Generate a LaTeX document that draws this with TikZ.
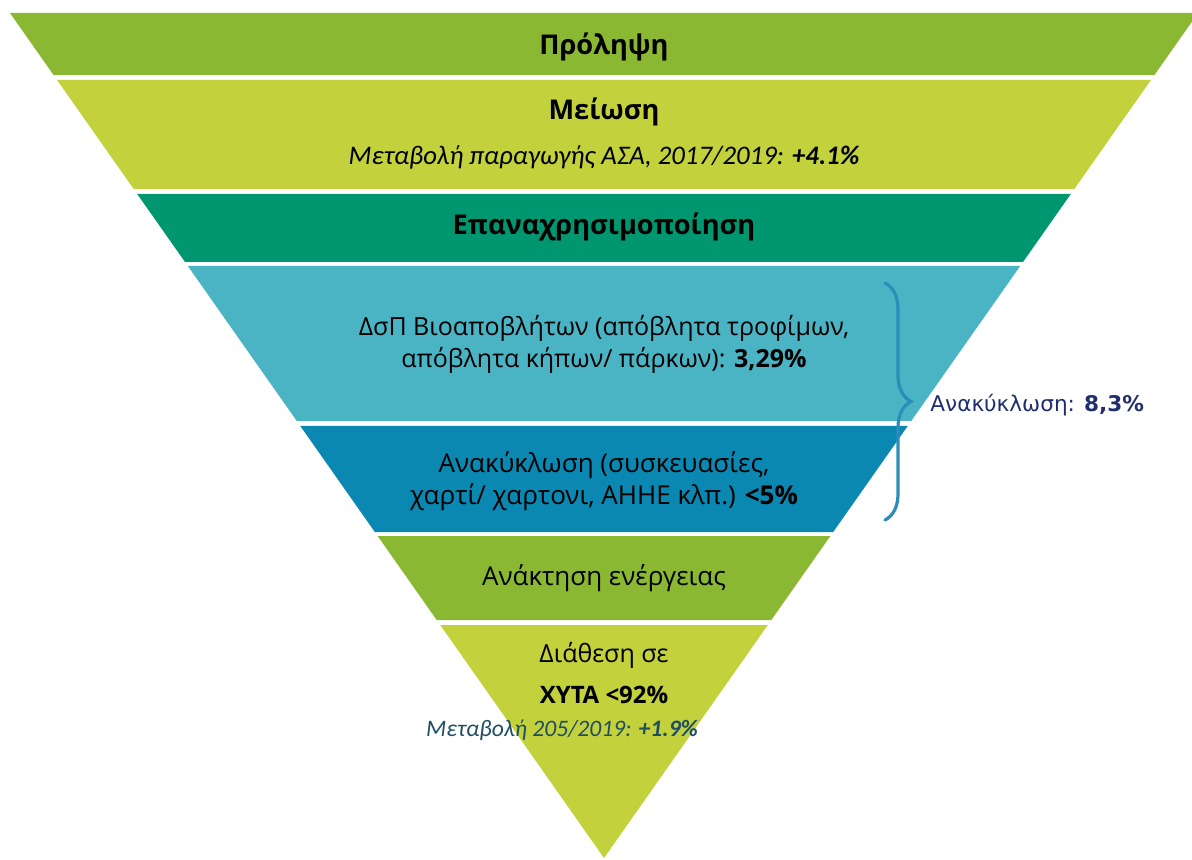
\documentclass[tikz,border=0pt]{standalone}
\usepackage{fontspec}
\setmainfont{Open Sans}
\newfontfamily\calfont{Carlito}
\newfontfamily\dvfont{DejaVu Sans}
\usetikzlibrary{decorations.pathreplacing}

\definecolor{grA}{HTML}{8AB833}
\definecolor{grB}{HTML}{C2D13C}
\definecolor{tealA}{HTML}{00966F}
\definecolor{cyanA}{HTML}{4BB4C4}
\definecolor{blueA}{HTML}{0B88B1}
\definecolor{braceblue}{HTML}{2A8DBA}
\definecolor{navy}{HTML}{1F2F6E}
\definecolor{noteteal}{HTML}{1F4E63}

\tikzset{
  head/.style={font=\fontsize{13.6}{16}\selectfont\bfseries, inner sep=0pt},
  body/.style={font=\fontsize{13}{16}\selectfont, align=center, inner sep=0pt},
  note/.style={font=\calfont\fontsize{13.4}{15}\selectfont\itshape, inner sep=0pt},
  sum/.style={font=\dvfont\fontsize{10.8}{14}\selectfont, text=navy, inner sep=0pt},
  bracket/.style={draw=braceblue, line width=1.6pt, line cap=round,
    decorate, decoration={brace, amplitude=13pt}},
}

\begin{document}
\begin{tikzpicture}[x=0.5pt, y=-0.5pt]
\useasboundingbox (0,0) rectangle (1192,860);

% bands of the pyramid
\foreach \ya/\yb/\col in {13/75/grA, 80/189/grB, 194/262/tealA, 266/421/cyanA,
                          426/532/blueA, 536/620/grA, 625/858/grB}{
  \pgfmathsetmacro\wa{(858-\ya)*0.703}
  \pgfmathsetmacro\wb{(858-\yb)*0.703}
  \fill[\col] (604-\wa,\ya) -- (604+\wa,\ya) -- (604+\wb,\yb) -- (604-\wb,\yb) -- cycle;
}

\node[head] (p) at (604,47) {Πρόληψη};
\node[head] (m) at (604,112) {Μείωση};
\node[note] (m1) at (604,157) {Μεταβολή παραγωγής ΑΣΑ, 2017/2019: \textbf{+4.1\%}};
\node[head] (e) at (604,227) {Επαναχρησιμοποίηση};

\node[body, font=\fontsize{12.5}{16}\selectfont] (d) at (604,344) {ΔσΠ Βιοαποβλήτων (απόβλητα τροφίμων,\\
  απόβλητα κήπων/ πάρκων): \textbf{3,29\%}};
\node[body] (r) at (604,481) {Ανακύκλωση (συσκευασίες,\\
  χαρτί/ χαρτονι, ΑΗΗΕ κλπ.) \textbf{<5\%}};
\node[body] (k) at (604,578) {Ανάκτηση ενέργειας};

\node[body, font=\fontsize{12.5}{16}\selectfont] (x1) at (604,655) {Διάθεση σε};
\node[body, font=\fontsize{12}{16}\selectfont\bfseries] (x2) at (604,695) {ΧΥΤΑ <92\%};
\node[note, font=\calfont\fontsize{11.8}{14}\selectfont\itshape, text=noteteal] (x3) at (562,730)
  {Μεταβολή 205/2019: \textbf{+1.9\%}};

% recycling total
\coordinate (bt) at (885,283);
\coordinate (bb) at (885,520);
\draw[bracket] (bt) -- (bb);
\node[sum, anchor=west] (s) at (930,405) {Ανακύκλωση: \textbf{8,3\%}};

\end{tikzpicture}
\end{document}
